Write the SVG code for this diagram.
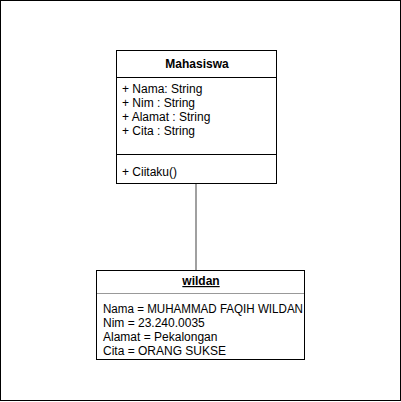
<svg xmlns="http://www.w3.org/2000/svg" width="401" height="402" viewBox="0 0 401 402">
<style>
.box{fill:#fff;stroke:#000;stroke-width:1}
.sep{stroke:#000;stroke-width:1}
.sepg{stroke:#999;stroke-width:1}
.t{font-family:"Liberation Sans",Arial,sans-serif;font-size:12px;fill:#000}
.b{font-weight:bold;text-anchor:middle}
</style>
<rect x="0" y="0" width="401" height="402" fill="#fff"/>
<rect x="0.5" y="0.5" width="400" height="400" fill="none" stroke="#000" stroke-width="1"/>
<g id="connectors">
<line x1="196" y1="184" x2="196" y2="270" stroke="#808080" stroke-width="1.5"/>
</g>
<g id="mahasiswa">
<rect class="box" x="116.5" y="50.5" width="160" height="133"/>
<line class="sep" x1="116.5" y1="77.5" x2="276.5" y2="77.5"/>
<line class="sep" x1="116.5" y1="154.5" x2="276.5" y2="154.5"/>
<text class="t b" x="197" y="68">Mahasiswa</text>
<text class="t" x="122" y="93">+ Nama: String</text>
<text class="t" x="122" y="107">+ Nim : String</text>
<text class="t" x="122" y="121">+ Alamat : String</text>
<text class="t" x="122" y="135">+ Cita : String</text>
<text class="t" x="122" y="176">+ Ciitaku()</text>
</g>
<g id="wildan">
<rect class="box" x="96.5" y="270.5" width="208" height="89"/>
<line class="sepg" x1="97" y1="293.5" x2="304" y2="293.5"/>
<text class="t b" x="201" y="285" text-decoration="underline">wildan</text>
<text class="t" x="103" y="313" textLength="200" lengthAdjust="spacingAndGlyphs">Nama = MUHAMMAD FAQIH WILDAN</text>
<text class="t" x="103" y="327">Nim = 23.240.0035</text>
<text class="t" x="103" y="341">Alamat = Pekalongan</text>
<text class="t" x="103" y="355">Cita = ORANG SUKSE</text>
</g>
</svg>
